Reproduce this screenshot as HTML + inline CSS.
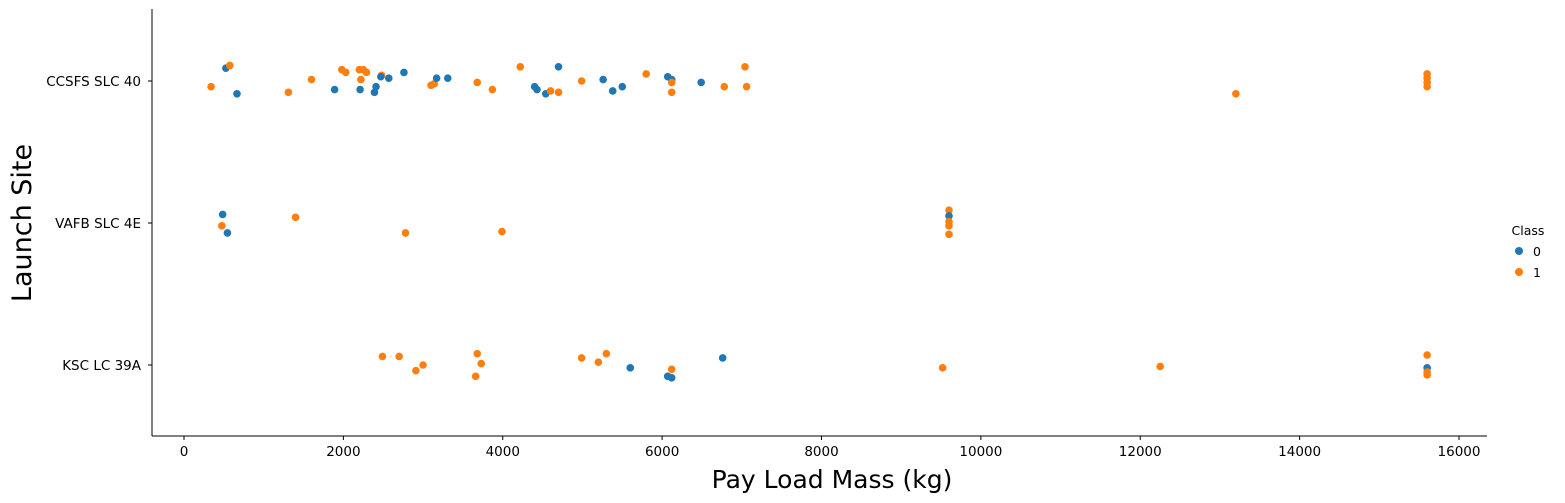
<!DOCTYPE html>
<html><head><meta charset="utf-8"><style>
body{margin:0;background:#fff}
svg{display:block;font-family:"DejaVu Sans","Liberation Sans",sans-serif}
</style></head><body>
<svg id="chart" width="1565" height="503">
<g id="axes"></g>
<g id="pts"></g>
<text x="832" y="488" font-size="25" text-anchor="middle">Pay Load Mass (kg)</text>
<text transform="translate(31,223) rotate(-90)" font-size="27" text-anchor="middle">Launch Site</text>
<g>
<text x="1528" y="235" font-size="12.5" text-anchor="middle">Class</text>
<g><circle cx="1519" cy="251" r="4" fill="#1f77b4"/><text x="1533" y="256" font-size="12.5">0</text></g>
<g><circle cx="1519" cy="272" r="4" fill="#ff7f0e"/><text x="1533" y="277" font-size="12.5">1</text></g>
</g>
</svg>
<script>
const categories=["CCSFS SLC 40","VAFB SLC 4E","KSC LC 39A"];
const xTicks=[0,2000,4000,6000,8000,10000,12000,14000,16000];
const payload=[525,575,340,665,1310,1600,1890,1980,2030,2200,2250,2290,2220,2210,2410,2390,2480,2470,2570,2760,3100,3140,3170,3310,3680,3870,4220,4400,4430,4540,4600,4700,4700,4990,5260,5380,5500,5800,6070,6120,6120,6120,6490,6780,7040,7060,13200,15600,15600,15600,15600,
485,475,545,1400,2780,3990,9600,9600,9600,9600,9600,
2490,2700,2910,3000,3680,3730,3660,4990,5200,5300,5600,6070,6120,6120,6760,9520,12250,15600,15600,15600,15600];
const site=[0,0,0,0,0,0,0,0,0,0,0,0,0,0,0,0,0,0,0,0,0,0,0,0,0,0,0,0,0,0,0,0,0,0,0,0,0,0,0,0,0,0,0,0,0,0,0,0,0,0,0,
1,1,1,1,1,1,1,1,1,1,1,
2,2,2,2,2,2,2,2,2,2,2,2,2,2,2,2,2,2,2,2,2];
const jitter=[-0.09,-0.11,0.04,0.09,0.08,-0.01,0.06,-0.08,-0.06,-0.08,-0.08,-0.06,-0.01,0.06,0.04,0.08,-0.04,-0.03,-0.02,-0.06,0.03,0.02,-0.02,-0.02,0.01,0.06,-0.1,0.04,0.06,0.09,0.07,0.08,-0.1,0,-0.01,0.07,0.04,-0.05,-0.03,-0.01,0.01,0.08,0.01,0.04,-0.1,0.04,0.09,-0.05,-0.02,0.01,0.04,
-0.06,0.02,0.07,-0.04,0.07,0.06,-0.09,-0.05,-0.01,0.02,0.08,
-0.06,-0.06,0.04,0,-0.08,-0.01,0.08,-0.05,-0.02,-0.08,0.02,0.08,0.09,0.03,-0.05,0.02,0.01,-0.07,0.02,0.05,0.07];
const cls=[0,1,1,0,1,1,0,1,1,1,1,1,1,0,0,0,1,0,0,0,1,1,0,0,1,1,1,0,0,0,1,1,0,1,0,0,0,1,0,0,1,1,0,1,1,1,1,1,1,1,1,
0,1,0,1,1,1,1,0,1,1,1,
1,1,1,1,1,1,1,1,1,1,0,0,0,1,0,1,1,1,0,1,1];
const NS="http://www.w3.org/2000/svg";
const X0=152,X1=1487,Y0=9,Y1=436;
const xs=v=>184+v*(1459-184)/16000;
const ys=(c,j)=>81+(c+j)*142;
const colors=["#1f77b4","#ff7f0e"];
function mk(tag,attrs,parent){const e=document.createElementNS(NS,tag);for(const k in attrs)e.setAttribute(k,attrs[k]);parent.appendChild(e);return e;}
const ax=document.getElementById('axes');
let l=mk('line',{x1:X0,y1:Y0,x2:X0,y2:Y1,stroke:'#000','stroke-width':1},ax);


l=mk('line',{x1:X0,y1:Y1,x2:X1,y2:Y1,stroke:'#000','stroke-width':1},ax);


xTicks.forEach(t=>{
 const x=xs(t);
 mk('line',{x1:x,y1:Y1,x2:x,y2:Y1+4,stroke:'#000'},ax);
 const tx=mk('text',{x:x,y:Y1+20,'font-size':13.5,'text-anchor':'middle'},ax);
 tx.textContent=t;
 
 
});
categories.forEach((c,i)=>{
 const y=ys(i,0);
 mk('line',{x1:X0-4,y1:y,x2:X0,y2:y,stroke:'#000'},ax);
 const tx=mk('text',{x:X0-11,y:y+5,'font-size':13.5,'text-anchor':'end'},ax);
 tx.textContent=c;
 
 
});
const pg=document.getElementById('pts');
payload.forEach((p,i)=>{
 const c=mk('circle',{cx:xs(p),cy:ys(site[i],jitter[i]),r:3.8,fill:colors[cls[i]]},pg);
 
 
});
</script>
</body></html>
